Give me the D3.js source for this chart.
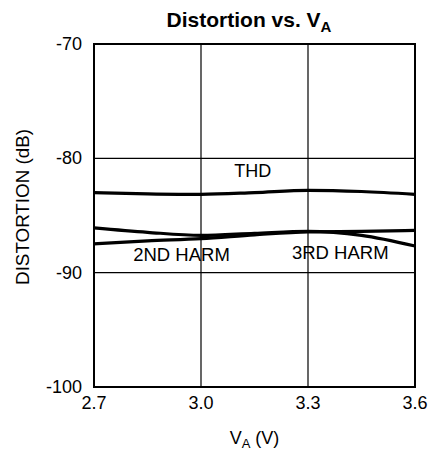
<!DOCTYPE html>
<html>
<head>
<meta charset="utf-8">
<script src="https://cdn.jsdelivr.net/npm/d3@7"></script>
<style>
  body { margin: 0; background: #fff; }
  text { font-family: Arial, "Liberation Sans", sans-serif; fill: #000; }
</style>
</head>
<body>
<svg id="chart" width="429" height="452"></svg>
<script>
// values
var va = [2.7, 2.85, 3.0, 3.15, 3.3, 3.45, 3.6];
var thd = [-83.0, -83.1, -83.15, -83.0, -82.8, -82.9, -83.15];
var harm3 = [-86.08, -86.47, -86.74, -86.56, -86.39, -86.74, -87.67];
var harm2 = [-87.48, -87.22, -87.03, -86.69, -86.43, -86.39, -86.3];
var xTicks = [2.7, 3.0, 3.3, 3.6];
var yTicks = [-70, -80, -90, -100];

var svg = d3.select("#chart");
var margin = {top: 44, right: 14, bottom: 65, left: 94};
var width = 429 - margin.left - margin.right,
    height = 452 - margin.top - margin.bottom;

var x = d3.scaleLinear().domain([2.7, 3.6]).range([0, width]);
var y = d3.scaleLinear().domain([-100, -70]).range([height, 0]);

var g = svg.append("g")
    .attr("transform", "translate(" + margin.left + "," + margin.top + ")");

// grid
g.selectAll(".vgrid")
  .data(xTicks.slice(1, -1))
  .enter().append("line")
    .attr("x1", x).attr("x2", x)
    .attr("y1", 0).attr("y2", height)
    .attr("stroke", "#000").attr("stroke-width", 1.2);

g.selectAll(".hgrid")
  .data(yTicks.slice(1, -1))
  .enter().append("line")
    .attr("x1", 0).attr("x2", width)
    .attr("y1", y).attr("y2", y)
    .attr("stroke", "#000").attr("stroke-width", 1.2);

g.append("rect")
    .attr("width", width).attr("height", height)
    .attr("fill", "none").attr("stroke", "#000").attr("stroke-width", 2);

// tick labels
g.selectAll(".xt")
  .data(xTicks)
  .enter().append("text")
    .attr("x", x)
    .attr("y", height + 22)
    .attr("text-anchor", "middle")
    .style("font-size", "18px")
    .text(function(d) { return d.toFixed(1); });

g.selectAll(".yt")
  .data(yTicks)
  .enter().append("text")
    .attr("x", -12)
    .attr("y", function(d) { return y(d) + 6; })
    .attr("text-anchor", "end")
    .style("font-size", "18px")
    .text(function(d) { return d; });

// curves
var line = d3.line()
    .x(function(d, i) { return x(va[i]); })
    .y(function(d) { return y(d); })
    .curve(d3.curveMonotoneX);

[thd, harm3, harm2].forEach(function(s) {
  g.append("path")
      .attr("d", line(s))
      .attr("fill", "none")
      .attr("stroke", "#000")
      .attr("stroke-width", 3.2);
});

// curve labels
g.append("text").attr("x", x(3.145)).attr("y", 133)
    .attr("text-anchor", "middle").style("font-size", "18px").text("THD");
g.append("text").attr("x", x(2.81)).attr("y", 217)
    .style("font-size", "18.5px").text("2ND HARM");
g.append("text").attr("x", x(3.255)).attr("y", 215)
    .style("font-size", "18.5px").text("3RD HARM");

// title
var title = svg.append("text")
    .attr("x", 249).attr("y", 27)
    .attr("text-anchor", "middle")
    .style("font-size", "21px").style("font-weight", "bold");
title.append("tspan").text("Distortion vs. V");
title.append("tspan").attr("dy", 5).style("font-size", "15px").text("A");

// axis labels
var xl = svg.append("text")
    .attr("x", margin.left + width / 2).attr("y", 444)
    .attr("text-anchor", "middle")
    .style("font-size", "18px");
xl.append("tspan").text("V");
xl.append("tspan").attr("dy", 4).style("font-size", "13px").text("A");
xl.append("tspan").attr("dy", -4).text(" (V)");

svg.append("text")
    .attr("transform", "translate(29,207) rotate(-90)")
    .attr("text-anchor", "middle")
    .style("font-size", "18.8px")
    .text("DISTORTION (dB)");
</script>
</body>
</html>
